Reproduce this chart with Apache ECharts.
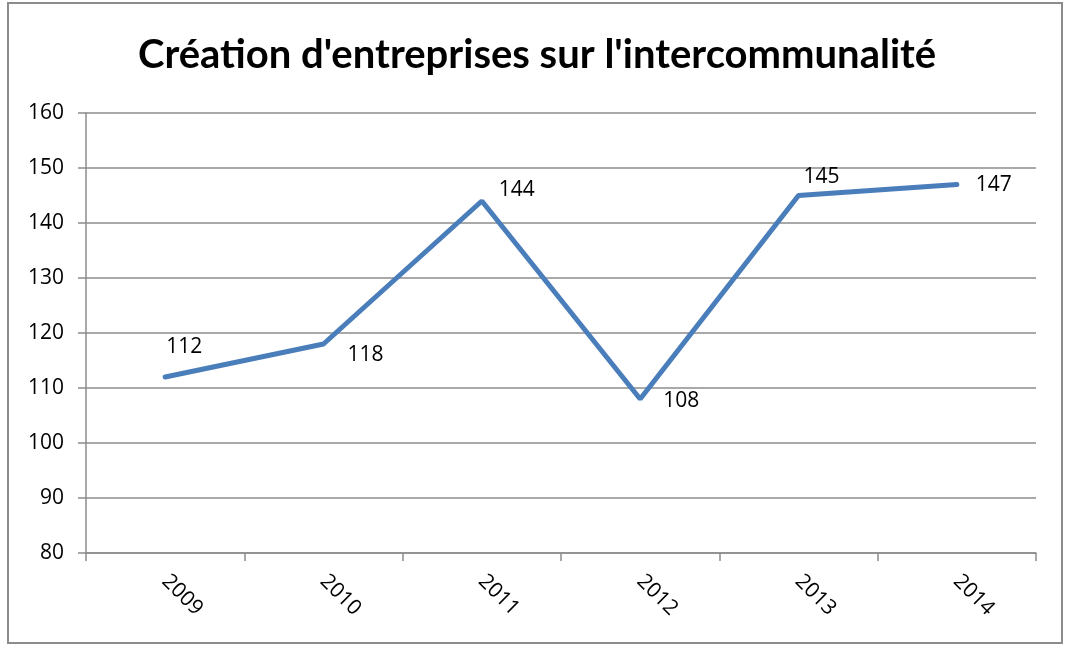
<!DOCTYPE html>
<html lang="fr">
<head>
    <meta charset="utf-8">
    <title>Création d'entreprises</title>
    <script src="https://cdn.jsdelivr.net/npm/echarts@6/dist/echarts.min.js"></script>
    <style>
        html, body { margin: 0; padding: 0; background: #fff; }
        #chart { width: 1065px; height: 646px; }
    </style>
</head>
<body>
<div id="chart"></div>
<script type="text/javascript">
    var years = ['2009', '2010', '2011', '2012', '2013', '2014'];
    var creations = [112, 118, 144, 108, 145, 147];
    // where each value label sits relative to its point (px)
    var labelOffsets = [[19, -30], [42, 11], [35, -11], [41, 2], [23, -18], [37, 1]];

    var chart = echarts.init(document.getElementById('chart'));

    var points = [];
    for (var i = 0; i < creations.length; i++) {
        points.push({
            value: creations[i],
            label: { offset: labelOffsets[i] }
        });
    }

    var option = {
        backgroundColor: '#fff',
        animation: false,
        title: {
            text: "Création d'entreprises sur l'intercommunalité",
            left: 133,
            top: 30,
            textStyle: { fontFamily: 'Lato', fontWeight: 'bold', fontSize: 40, color: '#000' }
        },
        graphic: [{
            type: 'rect',
            shape: { x: 8, y: 3, width: 1054, height: 640 },
            style: { fill: 'none', stroke: '#8c8c8c', lineWidth: 2 }
        }],
        grid: { left: 86, right: 29, top: 113, bottom: 93 },
        xAxis: {
            type: 'category',
            data: years,
            boundaryGap: true,
            axisLine: { lineStyle: { color: '#8c8c8c', width: 1.5 } },
            axisTick: { show: true, length: 8, lineStyle: { color: '#8c8c8c', width: 1.5 } },
            axisLabel: { rotate: -45, margin: 25, color: '#000', fontFamily: 'Open Sans', fontSize: 21 }
        },
        yAxis: {
            type: 'value',
            min: 80,
            max: 160,
            interval: 10,
            axisLine: { show: true, lineStyle: { color: '#8c8c8c', width: 1.5 } },
            axisTick: { show: true, length: 8, lineStyle: { color: '#8c8c8c', width: 1.5 } },
            splitLine: { lineStyle: { color: '#8c8c8c', width: 1.5 } },
            axisLabel: { margin: 22, color: '#000', fontFamily: 'Open Sans', fontSize: 21 }
        },
        series: [{
            type: 'line',
            data: points,
            symbol: 'circle',
            symbolSize: 1,
            itemStyle: { color: 'rgba(0,0,0,0)' },
            lineStyle: { color: '#4a7ebb', width: 5, cap: 'round' },
            label: {
                show: true,
                position: 'inside',
                color: '#000',
                fontFamily: 'Open Sans',
                fontSize: 21
            }
        }]
    };
    chart.setOption(option);
</script>
</body>
</html>
